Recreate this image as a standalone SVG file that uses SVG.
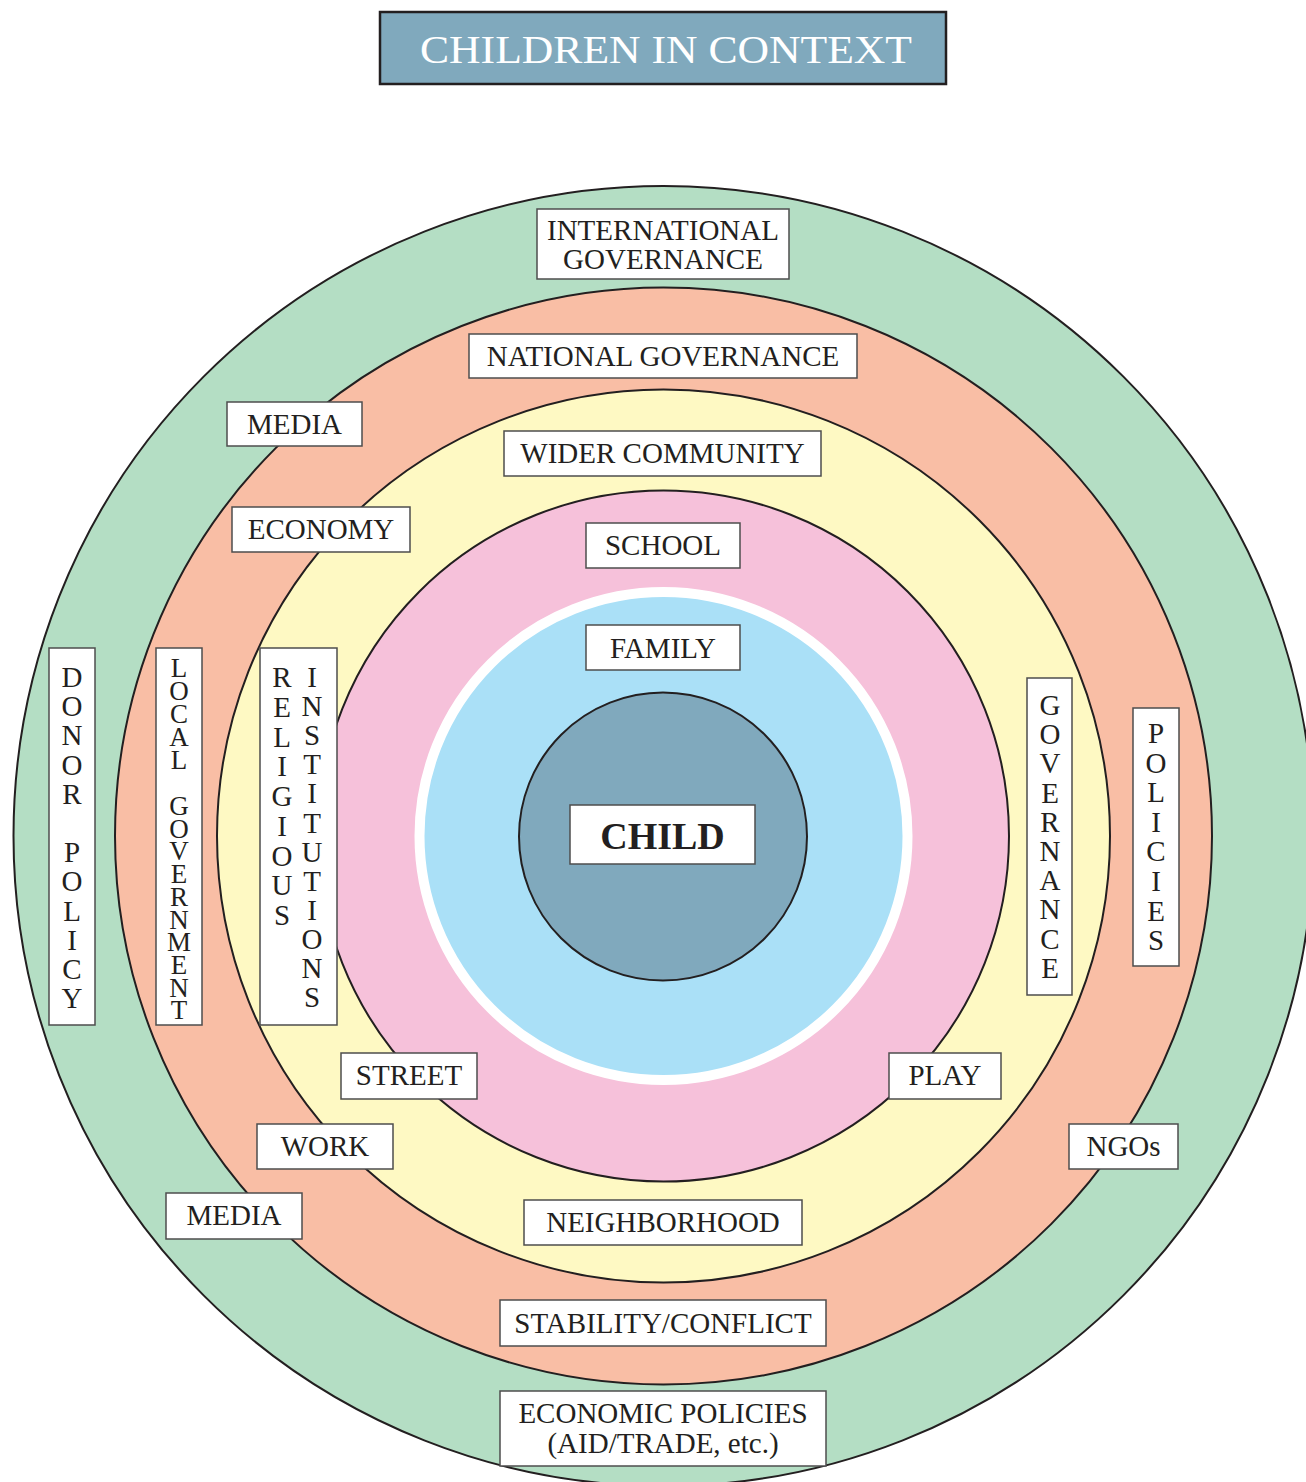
<svg xmlns="http://www.w3.org/2000/svg" width="1306" height="1482" viewBox="0 0 1306 1482">
<style>
.ring{stroke:#231f20;stroke-width:2}
.box{fill:#ffffff;stroke:#4d4d4d;stroke-width:1.5}
.t{font-family:"Liberation Serif","Times New Roman",serif;font-size:29px;fill:#231f20;text-anchor:middle}
.tn{font-family:"Liberation Serif","Times New Roman",serif;font-size:27px;fill:#231f20;text-anchor:middle}
.title{font-family:"Liberation Serif","Times New Roman",serif;font-size:40px;fill:#ffffff;text-anchor:middle}
.big{font-family:"Liberation Serif","Times New Roman",serif;font-size:38px;font-weight:bold;fill:#231f20;text-anchor:middle}
</style>
<rect width="1306" height="1482" fill="#ffffff"/>
<g id="rings">
<circle class="ring" cx="663.5" cy="836" r="650" fill="#b4dec4"/>
<circle class="ring" cx="663.5" cy="836" r="548.5" fill="#f9bea5"/>
<circle class="ring" cx="663.5" cy="836" r="446.5" fill="#fef9c3"/>
<circle class="ring" cx="663.5" cy="836" r="345.5" fill="#f6c1da"/>
<circle cx="663.5" cy="836" r="244" fill="#aae0f7" stroke="#ffffff" stroke-width="10"/>
<circle class="ring" cx="663" cy="836.5" r="144" fill="#80a9bd"/>
</g>
<g id="connectors"></g>
<g id="title">
<rect x="380" y="12" width="566" height="72" fill="#80a9bd" stroke="#231f20" stroke-width="2.5"/>
<text class="title" x="666" y="63" textLength="492" lengthAdjust="spacingAndGlyphs">CHILDREN IN CONTEXT</text>
</g>
<g id="international-governance">
<rect class="box" x="537" y="209" width="252" height="70"/>
<text class="t" x="663" y="240">INTERNATIONAL</text>
<text class="t" x="663" y="269">GOVERNANCE</text>
</g>
<g id="national-governance">
<rect class="box" x="469" y="334" width="388" height="44"/>
<text class="t" x="663" y="366">NATIONAL GOVERNANCE</text>
</g>
<g id="media-top">
<rect class="box" x="227" y="402" width="135" height="44"/>
<text class="t" x="294.5" y="434">MEDIA</text>
</g>
<g id="wider-community">
<rect class="box" x="504" y="431" width="317" height="45"/>
<text class="t" x="662.5" y="463">WIDER COMMUNITY</text>
</g>
<g id="economy">
<rect class="box" x="232" y="507" width="178" height="45"/>
<text class="t" x="321" y="539">ECONOMY</text>
</g>
<g id="school">
<rect class="box" x="586" y="523" width="154" height="45"/>
<text class="t" x="663" y="555">SCHOOL</text>
</g>
<g id="family">
<rect class="box" x="586" y="625" width="154" height="45"/>
<text class="t" x="663" y="658">FAMILY</text>
</g>
<g id="child">
<rect class="box" x="570" y="805" width="185" height="59"/>
<text class="big" x="662.5" y="849">CHILD</text>
</g>
<g id="donor-policy">
<rect class="box" x="49" y="648" width="46" height="377"/>
<text class="t"><tspan x="72" y="687">D</tspan><tspan x="72" y="716.2">O</tspan><tspan x="72" y="745.4">N</tspan><tspan x="72" y="774.6">O</tspan><tspan x="72" y="803.8">R</tspan><tspan x="72" y="862.2">P</tspan><tspan x="72" y="891.4">O</tspan><tspan x="72" y="920.6">L</tspan><tspan x="72" y="949.8">I</tspan><tspan x="72" y="979">C</tspan><tspan x="72" y="1008.2">Y</tspan></text>
</g>
<g id="local-government">
<rect class="box" x="156" y="648" width="46" height="377"/>
<text class="tn"><tspan x="179" y="677">L</tspan><tspan x="179" y="699.9">O</tspan><tspan x="179" y="722.7">C</tspan><tspan x="179" y="745.6">A</tspan><tspan x="179" y="768.5">L</tspan><tspan x="179" y="815">G</tspan><tspan x="179" y="837.7">O</tspan><tspan x="179" y="860.4">V</tspan><tspan x="179" y="883.1">E</tspan><tspan x="179" y="905.8">R</tspan><tspan x="179" y="928.5">N</tspan><tspan x="179" y="951.2">M</tspan><tspan x="179" y="973.9">E</tspan><tspan x="179" y="996.6">N</tspan><tspan x="179" y="1019.3">T</tspan></text>
</g>
<g id="religious-institutions">
<rect class="box" x="260" y="648" width="77" height="377"/>
<text class="t"><tspan x="282" y="687">R</tspan><tspan x="282" y="716.8">E</tspan><tspan x="282" y="746.5">L</tspan><tspan x="282" y="776.3">I</tspan><tspan x="282" y="806">G</tspan><tspan x="282" y="835.8">I</tspan><tspan x="282" y="865.5">O</tspan><tspan x="282" y="895.3">U</tspan><tspan x="282" y="925">S</tspan></text>
<text class="t"><tspan x="312" y="687">I</tspan><tspan x="312" y="716.1">N</tspan><tspan x="312" y="745.2">S</tspan><tspan x="312" y="774.3">T</tspan><tspan x="312" y="803.4">I</tspan><tspan x="312" y="832.5">T</tspan><tspan x="312" y="861.6">U</tspan><tspan x="312" y="890.7">T</tspan><tspan x="312" y="919.8">I</tspan><tspan x="312" y="948.9">O</tspan><tspan x="312" y="978">N</tspan><tspan x="312" y="1007.1">S</tspan></text>
</g>
<g id="governance">
<rect class="box" x="1027" y="678" width="45" height="317"/>
<text class="t"><tspan x="1050" y="715">G</tspan><tspan x="1050" y="744.2">O</tspan><tspan x="1050" y="773.4">V</tspan><tspan x="1050" y="802.6">E</tspan><tspan x="1050" y="831.8">R</tspan><tspan x="1050" y="861">N</tspan><tspan x="1050" y="890.2">A</tspan><tspan x="1050" y="919.4">N</tspan><tspan x="1050" y="948.6">C</tspan><tspan x="1050" y="977.8">E</tspan></text>
</g>
<g id="policies">
<rect class="box" x="1133" y="708" width="46" height="258"/>
<text class="t"><tspan x="1156" y="743">P</tspan><tspan x="1156" y="772.6">O</tspan><tspan x="1156" y="802.2">L</tspan><tspan x="1156" y="831.8">I</tspan><tspan x="1156" y="861.4">C</tspan><tspan x="1156" y="891">I</tspan><tspan x="1156" y="920.6">E</tspan><tspan x="1156" y="950.2">S</tspan></text>
</g>
<g id="street">
<rect class="box" x="341" y="1053" width="136" height="46"/>
<text class="t" x="409" y="1085">STREET</text>
</g>
<g id="play">
<rect class="box" x="889" y="1053" width="112" height="46"/>
<text class="t" x="945" y="1085">PLAY</text>
</g>
<g id="work">
<rect class="box" x="257" y="1124" width="136" height="45"/>
<text class="t" x="325" y="1156">WORK</text>
</g>
<g id="ngos">
<rect class="box" x="1069" y="1124" width="109" height="45"/>
<text class="t" x="1123.5" y="1156">NGOs</text>
</g>
<g id="media-bottom">
<rect class="box" x="166" y="1193" width="136" height="46"/>
<text class="t" x="234" y="1225">MEDIA</text>
</g>
<g id="neighborhood">
<rect class="box" x="524" y="1200" width="278" height="45"/>
<text class="t" x="663" y="1232">NEIGHBORHOOD</text>
</g>
<g id="stability-conflict">
<rect class="box" x="500" y="1300" width="326" height="46"/>
<text class="t" x="663" y="1333">STABILITY/CONFLICT</text>
</g>
<g id="economic-policies">
<rect class="box" x="500" y="1391" width="326" height="75"/>
<text class="t" x="663" y="1423">ECONOMIC POLICIES</text>
<text class="t" x="663" y="1453">(AID/TRADE, etc.)</text>
</g>
</svg>
